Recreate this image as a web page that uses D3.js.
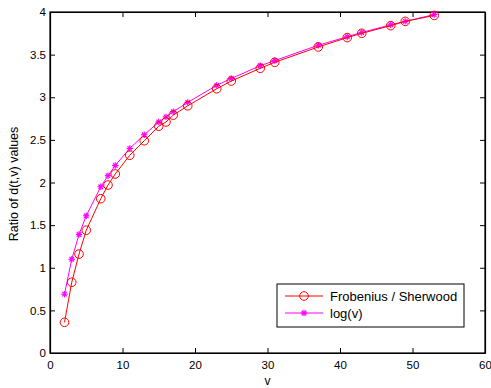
<!DOCTYPE html>
<html>
<head>
<script src="https://d3js.org/d3.v7.min.js"></script>
<style>
  body { margin: 0; background: #fff; }
  text { font-family: "Liberation Sans", Arial, sans-serif; font-size: 11px; fill: #000; }
</style>
</head>
<body>
<div id="grafik"></div>
<script>
    // v values (prime powers up to 53, plus 15)
    var vValues = [2, 3, 4, 5, 7, 8, 9, 11, 13, 15, 16, 17, 19, 23, 25, 29, 31, 37, 41, 43, 47, 49, 53];
    var frobSherwood = [0.36, 0.83, 1.16, 1.44, 1.81, 1.97, 2.10, 2.32, 2.49, 2.66, 2.71, 2.79, 2.90,
                        3.10, 3.19, 3.34, 3.41, 3.59, 3.70, 3.75, 3.84, 3.89, 3.96];
    var logV = [0.69, 1.10, 1.39, 1.61, 1.95, 2.08, 2.20, 2.40, 2.56, 2.71, 2.77, 2.83, 2.94,
                3.14, 3.22, 3.37, 3.43, 3.61, 3.71, 3.76, 3.85, 3.89, 3.97];
    var xTicks = [0, 10, 20, 30, 40, 50, 60];
    var yTicks = [0, 0.5, 1, 1.5, 2, 2.5, 3, 3.5, 4];
    var seriesNames = ["Frobenius / Sherwood", "log(v)"];

    var W = 491, H = 388;
    var margin = { top: 12, right: 6, bottom: 35, left: 50 },
        width = W - margin.left - margin.right,
        height = H - margin.top - margin.bottom;

    var svg = d3.select("#grafik")
        .append("svg")
        .attr("width", W)
        .attr("height", H);

    var g = svg.append("g")
        .attr("transform", "translate(" + margin.left + "," + margin.top + ")");

    var xScale = d3.scaleLinear().domain([0, 60]).range([0, width]);
    var yScale = d3.scaleLinear().domain([0, 4]).range([height, 0]);

    // axes (MATLAB style: ticks inward, box)
    var fmt = function(d) { return d3.format("")(d); };
    g.append("g")
        .attr("transform", "translate(0," + height + ")")
        .call(d3.axisBottom(xScale).tickValues(xTicks).tickSizeInner(-5).tickSizeOuter(0).tickPadding(8).tickFormat(fmt));
    g.append("g")
        .call(d3.axisTop(xScale).tickValues(xTicks).tickSizeInner(-5).tickSizeOuter(0).tickFormat(""));
    g.append("g")
        .call(d3.axisLeft(yScale).tickValues(yTicks).tickSizeInner(-5).tickSizeOuter(0).tickPadding(4).tickFormat(fmt));
    g.append("g")
        .attr("transform", "translate(" + width + ",0)")
        .call(d3.axisRight(yScale).tickValues(yTicks).tickSizeInner(-5).tickSizeOuter(0).tickFormat(""));
    g.selectAll(".domain").attr("stroke", "#000").attr("stroke-width", 1.2);
    g.selectAll(".tick line").attr("stroke", "#000");
    g.selectAll(".tick text").style("font-size", "11.5px").attr("fill", "#000");

    // box edges
    g.append("rect")
        .attr("width", width).attr("height", height)
        .attr("fill", "none").attr("stroke", "#000").attr("stroke-width", 1.2);

    var line = d3.line()
        .x(function(d) { return xScale(d[0]); })
        .y(function(d) { return yScale(d[1]); });

    var redData = vValues.map(function(v, i) { return [v, frobSherwood[i]]; });
    var magData = vValues.map(function(v, i) { return [v, logV[i]]; });

    function star(sel, cx, cy, r, color) {
        var s = sel.append("g").attr("transform", "translate(" + cx + "," + cy + ")")
            .attr("stroke", color).attr("stroke-width", 1.2);
        [0, 45, 90, 135].forEach(function(a) {
            var rad = a * Math.PI / 180;
            s.append("line")
                .attr("x1", -r * Math.cos(rad)).attr("y1", -r * Math.sin(rad))
                .attr("x2", r * Math.cos(rad)).attr("y2", r * Math.sin(rad));
        });
    }

    // magenta line + stars
    g.append("path").datum(magData)
        .attr("fill", "none").attr("stroke", "#ff00ff").attr("stroke-width", 1)
        .attr("d", line);
    magData.forEach(function(d) { star(g, xScale(d[0]), yScale(d[1]), 3.2, "#ff00ff"); });

    // red line + circles
    g.append("path").datum(redData)
        .attr("fill", "none").attr("stroke", "#ff0000").attr("stroke-width", 1)
        .attr("d", line);
    g.selectAll("circle.red").data(redData).enter()
        .append("circle")
        .attr("cx", function(d) { return xScale(d[0]); })
        .attr("cy", function(d) { return yScale(d[1]); })
        .attr("r", 4.3)
        .attr("fill", "none").attr("stroke", "#ff0000").attr("stroke-width", 1);

    // axis labels
    svg.append("text")
        .attr("x", margin.left + width / 2).attr("y", 385)
        .style("font-size", "12px")
        .attr("text-anchor", "middle").text("v");
    svg.append("text")
        .attr("transform", "translate(18,184) rotate(-90)")
        .style("font-size", "12.5px")
        .attr("text-anchor", "middle").text("Ratio of d(t,v) values");

    // legend
    var lg = svg.append("g").attr("transform", "translate(277,284)");
    lg.append("rect").attr("width", 187).attr("height", 43)
        .attr("fill", "#fff").attr("stroke", "#000").attr("stroke-width", 1);
    var colors = ["#ff0000", "#ff00ff"];
    seriesNames.forEach(function(name, i) {
        var yy = 12 + i * 17;
        lg.append("line").attr("x1", 8).attr("x2", 46).attr("y1", yy).attr("y2", yy)
            .attr("stroke", colors[i]).attr("stroke-width", 1);
        if (i === 0) {
            lg.append("circle").attr("cx", 27).attr("cy", yy).attr("r", 4.3)
                .attr("fill", "none").attr("stroke", colors[i]);
        } else {
            star(lg, 27, yy, 3.2, colors[i]);
        }
        lg.append("text").attr("x", 53).attr("y", yy + 4.5)
            .style("font-size", "13px").text(name);
    });
</script>
</body>
</html>
